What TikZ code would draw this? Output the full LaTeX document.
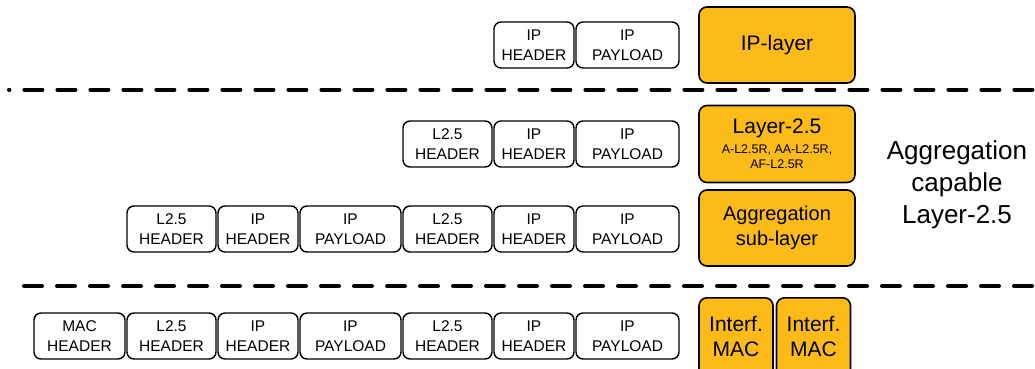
\documentclass[tikz,border=0pt]{standalone}
\usepackage{fontspec}
\setmainfont{Liberation Sans}
\definecolor{layerorange}{RGB}{252,187,24}
\tikzset{
  pkt/.style={draw=black, line width=1.4pt, rounded corners=7pt, fill=white,
    minimum height=46pt, inner sep=0pt, align=center,
    font=\fontsize{15.5}{20}\selectfont},
  layerbox/.style={draw=black, line width=1.6pt, rounded corners=8pt, fill=layerorange,
    minimum width=156pt, inner sep=0pt, align=center,
    font=\fontsize{21}{25}\selectfont},
  sep/.style={line width=4pt, line cap=round, dash pattern=on 18pt off 15pt},
  hdr/.style={pkt, minimum width=80pt},
  lhdr/.style={pkt, minimum width=89pt},
  pay/.style={pkt, minimum width=103pt},
}
\begin{document}
\begin{tikzpicture}[x=1pt,y=-1pt]
\useasboundingbox (0,0) rectangle (1035,368);
\clip (0,0) rectangle (1035,368);
% row 1
\node[hdr] (r1iph) at (534,45) {IP\\HEADER};
\node[pay] (r1ipp) at (627.5,45) {IP\\PAYLOAD};
\node[layerbox, minimum height=76pt] (iplayer) at (777,45) {IP-layer};
% separator 1
\coordinate (s1a) at (9,89.5);
\coordinate (s1b) at (1040,89.5);
\draw[sep, dash phase=17.6pt] (s1a) -- (s1b);
% row 2
\node[lhdr] (r2l) at (447.5,144) {L2.5\\HEADER};
\node[hdr] (r2iph) at (534,144) {IP\\HEADER};
\node[pay] (r2ipp) at (627.5,144) {IP\\PAYLOAD};
\node[layerbox, minimum height=77pt] (l25) at (777,144) {\fontsize{21}{25}\selectfont Layer-2.5\\[-5pt]\fontsize{12.5}{14}\selectfont A-L2.5R, AA-L2.5R,\\[-10pt]\fontsize{12.5}{14}\selectfont AF-L2.5R};
% row 3
\node[lhdr] (r3l1) at (171.5,229) {L2.5\\HEADER};
\node[hdr] (r3iph1) at (258,229) {IP\\HEADER};
\node[pkt, minimum width=101pt] (r3ipp1) at (350.5,229) {IP\\PAYLOAD};
\node[lhdr] (r3l2) at (447.5,229) {L2.5\\HEADER};
\node[hdr] (r3iph2) at (534,229) {IP\\HEADER};
\node[pay] (r3ipp2) at (627.5,229) {IP\\PAYLOAD};
\node[layerbox, minimum height=76pt, font=\fontsize{20}{25}\selectfont] (aggsub) at (777,228) {Aggregation\\sub-layer};
% right label
\node[align=center, font=\fontsize{26}{32}\selectfont, inner sep=0pt] (agglabel) at (957,185) {Aggregation\\capable\\Layer-2.5};
% separator 2
\coordinate (s2a) at (24,286);
\coordinate (s2b) at (1040,286);
\draw[sep] (s2a) -- (s2b);
% row 4
\node[pkt, minimum width=91pt] (r4mac) at (79.5,336) {MAC\\HEADER};
\node[lhdr] (r4l1) at (171.5,336) {L2.5\\HEADER};
\node[hdr] (r4iph1) at (258,336) {IP\\HEADER};
\node[pkt, minimum width=101pt] (r4ipp1) at (350.5,336) {IP\\PAYLOAD};
\node[lhdr] (r4l2) at (447.5,336) {L2.5\\HEADER};
\node[hdr] (r4iph2) at (534,336) {IP\\HEADER};
\node[pay] (r4ipp2) at (627.5,336) {IP\\PAYLOAD};
\node[layerbox, minimum width=74pt, minimum height=90pt, anchor=north] (mac1) at (736,297) {};
\node[layerbox, minimum width=74pt, minimum height=90pt, anchor=north] (mac2) at (813.5,297) {};
\node[align=center, font=\fontsize{21}{25}\selectfont, inner sep=0pt] (mac1t) at (736,336) {Interf.\\MAC};
\node[align=center, font=\fontsize{21}{25}\selectfont, inner sep=0pt] (mac2t) at (813.5,336) {Interf.\\MAC};
\end{tikzpicture}
\end{document}
